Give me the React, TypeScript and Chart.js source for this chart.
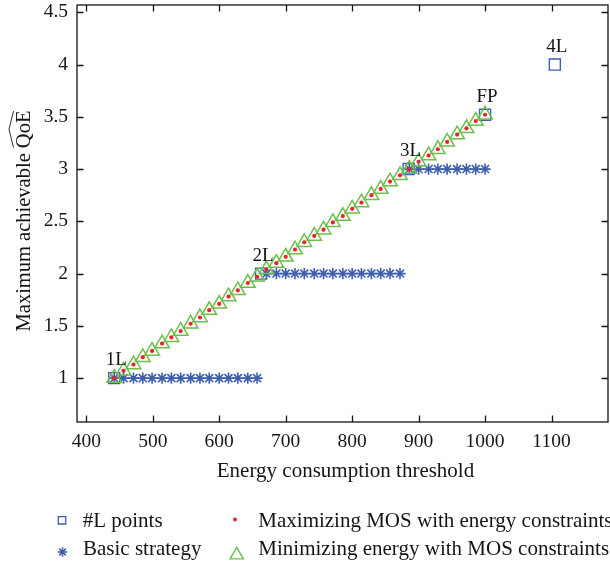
import React, { useEffect, useRef } from "react";
import { Chart, registerables } from "chart.js";

Chart.register(...registerables);

// ---- Data ----
const thresholds = [
  442, 456, 471, 485, 499, 514, 528, 542, 557, 571, 585, 600, 614, 628, 643, 657,
  671, 686, 700, 714, 728, 743, 757, 771, 786, 800, 814, 829, 843, 857, 872,
  886, 900, 915, 929, 943, 958, 972, 986, 1000,
];
const maxMosValues = [
  1.0, 1.07, 1.13, 1.2, 1.26, 1.33, 1.39, 1.45, 1.52, 1.58, 1.65, 1.71, 1.78, 1.84, 1.91, 1.97,
  2.04, 2.1, 2.16, 2.23, 2.3, 2.36, 2.42, 2.49, 2.55, 2.62, 2.68, 2.75, 2.81, 2.88, 2.94,
  3.0, 3.07, 3.13, 3.19, 3.26, 3.33, 3.39, 3.46, 3.52,
];
const minEnergyValues = [
  1.0, 1.07, 1.13, 1.2, 1.26, 1.33, 1.39, 1.45, 1.52, 1.58, 1.65, 1.71, 1.78, 1.84, 1.91, 1.97,
  2.04, 2.1, 2.16, 2.23, 2.3, 2.36, 2.42, 2.49, 2.55, 2.62, 2.68, 2.75, 2.81, 2.88, 2.94,
  3.0, 3.07, 3.13, 3.19, 3.26, 3.33, 3.39, 3.46, 3.52,
];
const basicValues = [
  1, 1, 1, 1, 1, 1, 1, 1, 1, 1, 1, 1, 1, 1, 1, 1,
  2, 2, 2, 2, 2, 2, 2, 2, 2, 2, 2, 2, 2, 2, 2,
  3, 3, 3, 3, 3, 3, 3, 3, 3,
];
const layerEnergy = [442, 663, 885, 1000, 1105];
const layerQoE = [1, 2, 3, 3.52, 4];
const layerLabels = ["1L", "2L", "3L", "FP", "4L"];

const xTicks = [400, 500, 600, 700, 800, 900, 1000, 1100];
const yTicks = [1, 1.5, 2, 2.5, 3, 3.5, 4, 4.5];

const xTitle = "Energy consumption threshold";
const yTitleMain = "Maximum achievable ";
const yTitleHat = "QoE";
const legendLabels = [
  "#L points",
  "Basic strategy",
  "Maximizing MOS with energy constraints",
  "Minimizing energy with MOS constraints",
];

const SERIF = "'Liberation Serif', 'DejaVu Serif', serif";
const BLUE = "#3f5eae";
const RED = "#e8232a";
const GREEN = "#6cbf4a";
const INK = "#151515";

function drawMarker(ctx: CanvasRenderingContext2D, kind: string, x: number, y: number, r: number) {
  ctx.beginPath();
  if (kind === "square") {
    ctx.strokeStyle = BLUE;
    ctx.lineWidth = 1.3;
    ctx.rect(x - r, y - r, 2 * r, 2 * r);
    ctx.stroke();
  } else if (kind === "star") {
    ctx.strokeStyle = BLUE;
    ctx.lineWidth = 1.5;
    for (let k = 0; k < 4; k++) {
      const a = (k * Math.PI) / 4;
      ctx.moveTo(x - Math.cos(a) * r, y - Math.sin(a) * r);
      ctx.lineTo(x + Math.cos(a) * r, y + Math.sin(a) * r);
    }
    ctx.stroke();
  } else if (kind === "dot") {
    ctx.fillStyle = RED;
    ctx.arc(x, y, r, 0, Math.PI * 2);
    ctx.fill();
  } else if (kind === "tri") {
    ctx.strokeStyle = GREEN;
    ctx.lineWidth = 1.4;
    for (let k = 0; k < 3; k++) {
      const a = (k * 2 * Math.PI) / 3;
      const px = x + Math.sin(a) * r;
      const py = y - Math.cos(a) * r;
      if (k === 0) ctx.moveTo(px, py);
      else ctx.lineTo(px, py);
    }
    ctx.closePath();
    ctx.stroke();
  }
}

const decorPlugin = {
  id: "decor",
  afterDatasetsDraw(chart: any) {
    const { ctx, chartArea } = chart;
    const xs = chart.scales.x;
    const ys = chart.scales.y;
    const { left, right, top, bottom } = chartArea;
    ctx.save();
    // frame
    ctx.strokeStyle = INK;
    ctx.lineWidth = 1.3;
    ctx.strokeRect(left, top, right - left, bottom - top);
    // inward ticks on all sides
    const tl = 6.5;
    ctx.beginPath();
    xTicks.forEach((v) => {
      const px = Math.round(xs.getPixelForValue(v)) + 0.5;
      ctx.moveTo(px, bottom);
      ctx.lineTo(px, bottom - tl);
      ctx.moveTo(px, top);
      ctx.lineTo(px, top + tl);
    });
    yTicks.forEach((v) => {
      const py = Math.round(ys.getPixelForValue(v)) + 0.5;
      ctx.moveTo(left, py);
      ctx.lineTo(left + tl, py);
      ctx.moveTo(right, py);
      ctx.lineTo(right - tl, py);
    });
    ctx.stroke();

    // point labels
    ctx.fillStyle = INK;
    ctx.font = `19px ${SERIF}`;
    ctx.textAlign = "center";
    ctx.textBaseline = "middle";
    layerLabels.forEach((lab, i) => {
      const px = xs.getPixelForValue(layerEnergy[i]);
      const py = ys.getPixelForValue(layerQoE[i]);
      ctx.fillText(lab, px + 2, py - 18);
    });

    // x title
    ctx.font = `21px ${SERIF}`;
    ctx.textAlign = "center";
    ctx.textBaseline = "alphabetic";
    ctx.fillText(xTitle, (left + right) / 2 + 3, 477);

    // y title with wide hat
    ctx.save();
    ctx.translate(30, 221);
    ctx.rotate(-Math.PI / 2);
    ctx.font = `20.5px ${SERIF}`;
    const full = yTitleMain + yTitleHat;
    const wFull = ctx.measureText(full).width;
    const wMain = ctx.measureText(yTitleMain).width;
    ctx.textAlign = "left";
    ctx.fillText(full, -wFull / 2, 0);
    const hx0 = -wFull / 2 + wMain + 0.5;
    const hx1 = wFull / 2 - 0.5;
    ctx.beginPath();
    ctx.lineWidth = 0.9;
    ctx.strokeStyle = INK;
    ctx.moveTo(hx0, -16.5);
    ctx.lineTo((hx0 + hx1) / 2, -21);
    ctx.lineTo(hx1, -16.5);
    ctx.stroke();
    ctx.restore();

    // legend
    ctx.font = `21px ${SERIF}`;
    ctx.textAlign = "left";
    ctx.textBaseline = "alphabetic";
    ctx.fillStyle = INK;
    drawMarker(ctx, "square", 62, 520.3, 3.7);
    ctx.fillText(legendLabels[0], 82.7, 526.7);
    drawMarker(ctx, "star", 62.5, 552, 4.8);
    ctx.fillText(legendLabels[1], 83, 555);
    drawMarker(ctx, "dot", 235, 519.5, 1.9);
    ctx.fillStyle = INK;
    ctx.fillText(legendLabels[2], 258.3, 526.7);
    drawMarker(ctx, "tri", 236.7, 555, 7.7);
    ctx.fillStyle = INK;
    ctx.fillText(legendLabels[3], 258.3, 555);
    ctx.restore();
  },
};

export default function App() {
  const canvasRef = useRef<HTMLCanvasElement | null>(null);

  useEffect(() => {
    if (!canvasRef.current) return;
    const pts = (xsArr: number[], ysArr: number[]) => xsArr.map((x, i) => ({ x, y: ysArr[i] }));
    const chart = new Chart(canvasRef.current, {
      type: "scatter",
      data: {
        datasets: [
          {
            label: legendLabels[0],
            data: pts(layerEnergy, layerQoE),
            pointStyle: "rect",
            pointRadius: 7.8,
            pointBorderWidth: 1.4,
            pointBorderColor: BLUE,
            pointBackgroundColor: "rgba(0,0,0,0)",
            showLine: false,
            order: 4,
          },
          {
            label: legendLabels[1],
            data: pts(thresholds, basicValues),
            pointStyle: "star",
            pointRadius: 5.6,
            pointBorderWidth: 1.6,
            pointBorderColor: BLUE,
            pointBackgroundColor: BLUE,
            showLine: false,
            order: 3,
          },
          {
            label: legendLabels[3],
            data: pts(thresholds, minEnergyValues),
            pointStyle: "triangle",
            pointRadius: 8.4,
            pointBorderWidth: 1.5,
            pointBorderColor: GREEN,
            pointBackgroundColor: "rgba(0,0,0,0)",
            showLine: false,
            order: 2,
          },
          {
            label: legendLabels[2],
            data: pts(thresholds, maxMosValues),
            pointStyle: "circle",
            pointRadius: 2.1,
            pointBorderWidth: 0,
            pointBorderColor: RED,
            pointBackgroundColor: RED,
            showLine: false,
            order: 1,
          },
        ],
      },
      options: {
        animation: false,
        responsive: false,
        devicePixelRatio: 1,
        layout: { autoPadding: false, padding: { top: 5, right: 2, left: 0, bottom: 0 } },
        plugins: { legend: { display: false }, tooltip: { enabled: false } },
        scales: {
          x: {
            type: "linear",
            position: "bottom",
            min: 386,
            max: 1185,
            grid: { display: false, drawTicks: false },
            border: { display: false },
            ticks: {
              font: { family: SERIF, size: 19.5 },
              color: INK,
              padding: 8,
              maxRotation: 0,
              autoSkip: false,
              callback: (v: any) => String(v),
            },
            afterBuildTicks: (s: any) => {
              s.ticks = xTicks.map((v) => ({ value: v }));
            },
            afterFit: (s: any) => {
              s.height = 143;
              s.paddingLeft = 0;
              s.paddingRight = 0;
            },
          },
          y: {
            type: "linear",
            position: "left",
            min: 0.58,
            max: 4.57,
            grid: { display: false, drawTicks: false },
            border: { display: false },
            ticks: {
              font: { family: SERIF, size: 19.5 },
              color: INK,
              padding: 9,
              autoSkip: false,
              callback: (v: any) => String(v),
            },
            afterBuildTicks: (s: any) => {
              s.ticks = yTicks.map((v) => ({ value: v }));
            },
            afterFit: (s: any) => {
              s.width = 77;
              s.paddingTop = 0;
              s.paddingBottom = 0;
            },
          },
        },
      },
      plugins: [decorPlugin],
    } as any);
    return () => chart.destroy();
  }, []);

  return (
    <div
      style={{
        position: "fixed",
        left: 0,
        top: 0,
        width: 610,
        height: 565,
        overflow: "hidden",
        background: "#fff",
      }}
    >
      <canvas ref={canvasRef} width={610} height={565} style={{ display: "block", width: 610, height: 565 }} />
    </div>
  );
}
